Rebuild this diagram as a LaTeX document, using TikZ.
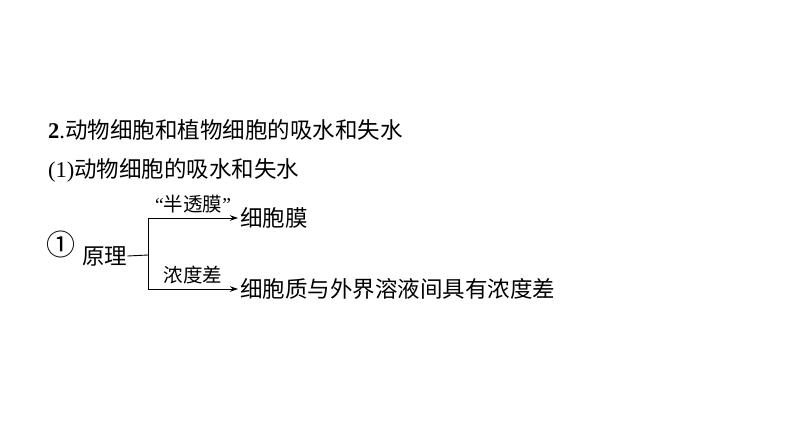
\documentclass[tikz,border=0pt]{standalone}
\usepackage{fontspec}
\setmainfont{Liberation Serif}
\newfontfamily\cjk{Noto Sans CJK SC}
\usetikzlibrary{arrows.meta}
\tikzset{
	txt/.style={anchor=west, inner sep=0pt},
	lbl/.style={font=\fontsize{19.5}{23}\selectfont, inner sep=0pt, above=4pt},
	arr/.style={-{Stealth[length=8pt,width=5.5pt]}, line width=0.9pt},
}
\begin{document}
\begin{tikzpicture}[x=1pt,y=-1pt,font=\fontsize{22.5}{27}\selectfont]
	\useasboundingbox (0,0) rectangle (794,447);
	% headings
	\node[txt] (title) at (48,130) {\textbf{2}.{\cjk 动物细胞和植物细胞的吸水和失水}};
	\node[txt] (sub) at (48,170) {(1){\cjk 动物细胞的吸水和失水}};
	% principle
	\node[txt] (num) at (46,244) {\cjk\fontsize{29}{34}\selectfont ①};
	\node[txt] (yuanli) at (82,256) {\cjk 原理};
	\coordinate (fork) at (148,255);
	\node[txt] (mem) at (240,218) {\cjk 细胞膜};
	\node[txt] (diff) at (240,289) {\cjk 细胞质与外界溶液间具有浓度差};
	\draw[line width=0.9pt] (yuanli.east) -- (fork);
	\draw[arr] (fork) |- ([xshift=-2pt]mem.west) node[lbl, pos=0.75] {“{\cjk 半透膜}”};
	\draw[arr] (fork) |- ([xshift=-2pt]diff.west) node[lbl, pos=0.75] {\cjk 浓度差};
\end{tikzpicture}
\end{document}
